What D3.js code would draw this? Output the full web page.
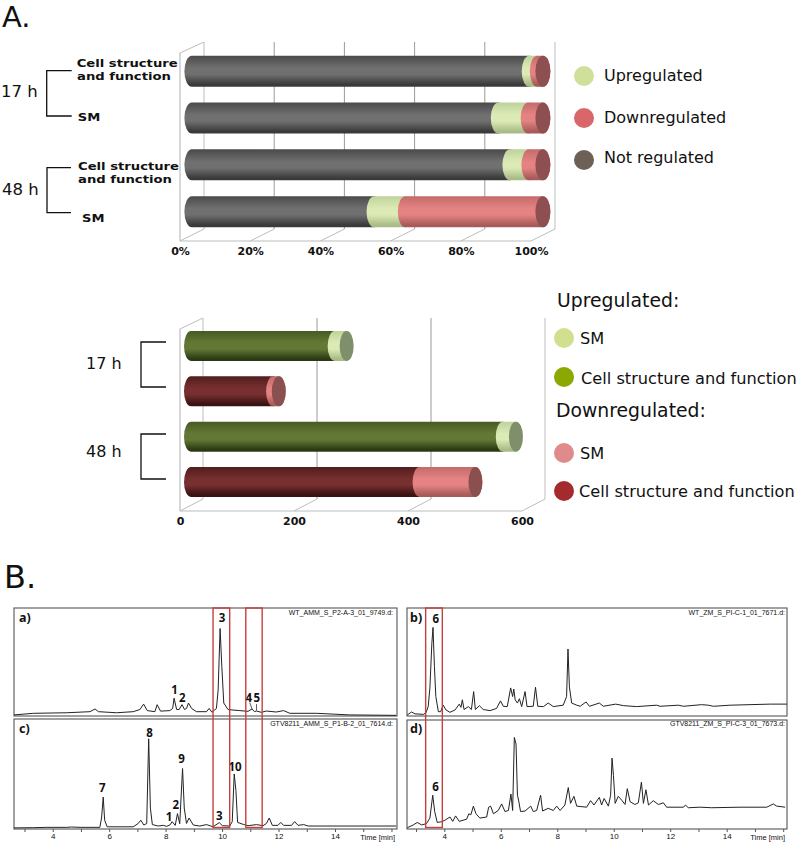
<!DOCTYPE html>
<html><head><meta charset="utf-8">
<script src="https://cdn.jsdelivr.net/npm/d3@7"></script>
<style>
html,body{margin:0;padding:0;background:#fff}
svg{display:block}
text{fill:#111}
</style></head><body>
<svg id="c" width="798" height="844"></svg>
<script>
// ---------- Part A, top chart (percent) ----------
const pctCategories = ["17h CSF","17h SM","48h CSF","48h SM"];
const pctNotRegulated = [96.1,87.3,90.6,51.9];
const pctUpregulated = [2.3,8.5,5.4,8.9];
const pctDownregulated = [1.6,4.2,4,39.2];
const pctTicks = [0,20,40,60,80,100];

// ---------- Part A, bottom chart (gene counts) ----------
const countCategories = ["17h Up","17h Down","48h Up","48h Down"];
const countCellStructure = [252,144,547,401];
const countSM = [21,10,23,98];
const countTicks = [0,200,400,600];

// ---------- Part B, chromatograms: [time (min), relative response %] ----------
const traceA = [[2.63,1],[3.32,2.5],[4.5,3],[5.32,4],[5.5,6.5],[5.62,4],[6.26,3],[6.85,4],[7.09,6],[7.22,11],[7.35,5],[7.62,4],[7.7,10.5],[7.82,4.5],[8.15,5],[8.25,7],[8.3,16.5],[8.39,6],[8.48,6],[8.58,10.5],[8.67,6],[8.74,7],[8.81,12],[8.92,7],[9.09,4],[9.45,4],[9.54,7],[9.64,3.5],[9.8,7],[9.86,24],[9.93,81],[9.99,46],[10.06,12],[10.21,6],[10.39,5.5],[10.63,5],[10.92,4.3],[11.06,6.5],[11.15,4],[11.22,4.6],[11.39,3.4],[11.57,4.6],[11.92,3.7],[12.18,5],[12.4,2.5],[13.34,2.5],[14.52,1],[16.17,0.6]];
const traceC = [[2.63,1],[3.32,1.2],[3.79,1.5],[4.5,1.5],[4.67,1.8],[4.97,1.5],[5.67,1.5],[5.73,10],[5.79,29],[5.84,8],[5.93,2],[6.85,2],[7.03,5],[7.12,8],[7.23,3.6],[7.33,5],[7.4,82],[7.46,19],[7.53,4],[7.74,2.7],[7.92,3.3],[8.03,2.4],[8.15,3.6],[8.23,6.7],[8.34,3.3],[8.42,14],[8.5,4.8],[8.6,55],[8.66,19],[8.74,5],[8.83,10],[8.98,3.6],[9.21,2.7],[9.45,4],[9.68,2],[9.9,5.8],[10.01,3],[10.27,2.7],[10.36,6.7],[10.43,50],[10.49,35],[10.55,6],[10.75,4.2],[10.92,3],[11.22,4],[11.45,3],[11.57,5],[11.67,10],[11.78,3.3],[11.98,3.3],[12.08,6],[12.18,3.3],[12.46,3.3],[12.57,6.7],[12.69,3.3],[12.89,4],[13.05,2.7],[16.17,2.7]];
const traceB = [[2.69,1],[2.84,3.7],[2.96,2],[3.26,1.5],[3.35,3],[3.43,8.7],[3.49,26],[3.56,67.5],[3.6,82],[3.65,46],[3.7,18],[3.79,4],[3.87,4],[3.96,10],[4.06,5.6],[4.2,3.4],[4.38,5.6],[4.53,11],[4.59,8],[4.64,15],[4.7,6],[4.85,8.7],[4.96,6],[5.04,22.6],[5.1,6],[5.24,9.6],[5.38,6],[5.62,5],[5.85,7],[5.99,14],[6.09,9],[6.23,8.7],[6.35,26],[6.42,18],[6.46,25],[6.51,15],[6.59,12],[6.66,16],[6.74,8.7],[6.86,22.6],[6.93,8.7],[7.15,9],[7.23,26.6],[7.31,9],[7.51,8.7],[7.68,12],[7.86,8.7],[8.21,10],[8.33,18],[8.38,62],[8.43,27],[8.51,12],[8.69,10],[8.81,9],[9.02,13],[9.14,9],[9.49,12],[9.63,9],[10.07,11],[10.34,9.6],[10.81,8.7],[11.52,10],[11.64,9],[12.29,10],[12.47,9],[13.11,10.5],[13.35,10],[13.53,9],[14.12,10],[15.54,11],[16.13,11]];
const traceD = [[2.69,1.2],[2.9,3.7],[3.04,6],[3.2,3.7],[3.37,5],[3.49,10],[3.59,31],[3.66,16],[3.75,6],[3.91,6.7],[4.02,8],[4.2,11],[4.3,7],[4.4,12],[4.53,7],[4.79,9],[4.87,14],[4.94,13],[5.03,21],[5.12,14],[5.26,10],[5.5,11],[5.57,20],[5.64,21],[5.74,14],[5.91,17],[6.03,23],[6.15,16],[6.27,17],[6.36,32],[6.42,17],[6.48,84],[6.54,78],[6.59,31],[6.63,26.5],[6.7,16],[6.86,16.5],[7.06,21],[7.15,16],[7.27,17],[7.41,31],[7.48,16.5],[7.68,19],[7.86,17],[7.98,21],[8.1,17],[8.27,22],[8.39,38],[8.47,23.5],[8.59,30],[8.69,21],[9.04,20],[9.18,26],[9.3,22],[9.49,29],[9.57,22],[9.66,28],[9.81,21],[9.89,31],[9.94,65],[9.99,49],[10.05,23.5],[10.16,30],[10.28,26.5],[10.4,22.5],[10.48,37],[10.58,25],[10.75,22.5],[10.87,24],[10.98,43],[11.05,23.5],[11.14,36],[11.23,22],[11.4,26],[11.58,22.5],[11.76,24],[11.87,20],[12.47,20],[12.54,22],[12.64,19.5],[13.06,20],[13.47,19.5],[14.47,20],[15.42,20],[15.65,23],[15.77,21],[16.07,20]];
const peaksA = [["3",10.0,86.7],["1",8.32,20.4],["2",8.59,13.3],["4",10.95,13.3],["5",11.23,13.3]];
const peaksB = [["6",3.7,86]];
const peaksC = [["7",5.76,34],["8",7.43,84],["9",8.56,60],["1",8.12,7.3],["2",8.36,18],["3",9.9,8.2],["10",10.46,53]];
const peaksD = [["6",3.69,35]];
const peakLeadersA = [[10.98,12.4,11.06,6.5],[11.22,11,11.22,5]];
const timeTicks = [3,4,5,6,7,8,9,10,11,12,13,14,15,16];
const highlightLeft = [[9.68,10.27],[10.84,11.42]];
const highlightRight = [[3.34,3.93]];

const svg = d3.select("#c");
const defs = svg.append("defs");
const FONT = "'DejaVu Sans',sans-serif";
const FONT2 = "'Noto Sans',sans-serif";
const ARIAL = "'Liberation Sans',sans-serif";

function grad(id,top,mid,bot){
  const g = defs.append("linearGradient").attr("id",id).attr("x1",0).attr("y1",0).attr("x2",0).attr("y2",1);
  [[0,top],[.4,mid],[.6,mid],[.93,bot],[1,bot]].forEach(s=>g.append("stop").attr("offset",s[0]).attr("stop-color",s[1]));
}
grad("gGrey","#4a4a4a","#707070","#3a3a3a");
grad("gLG","#bfd29a","#dcebb6","#a9bb86");
grad("gRed","#c46a6a","#e58383","#a85a5a");
grad("gDG","#475a24","#647835","#2b3a13");
grad("gDR","#521d1d","#772f2f","#3a1212");

function chart3d(o){
  const g = svg.append("g");
  const RX = o.rx;
  const xFront = d3.scaleLinear().domain(o.domain).range(o.xr);
  const xBar = d3.scaleLinear().domain(o.domain).range([o.xr[0]+o.barShift,o.xr[1]+o.barShift]);
  const xBack = d3.scaleLinear().domain(o.domain).range([o.xr[0]+o.depth,o.xr[1]+o.depth]);
  const y = d3.scalePoint().domain(o.cats).range(o.yr);
  const wall="#bdbdbd", grid="#9a9a9a";
  g.selectAll(".gl").data(o.ticks).join("line").attr("x1",d=>xBack(d)).attr("x2",d=>xBack(d))
    .attr("y1",o.backTop).attr("y2",o.backBot).attr("stroke",(d,i)=>i==0||i==o.ticks.length-1?wall:grid).attr("stroke-width",1);
  g.selectAll(".sl").data(o.ticks).join("line").attr("x1",d=>xFront(d)).attr("x2",d=>xBack(d))
    .attr("y1",o.frontBot).attr("y2",o.backBot).attr("stroke",wall);
  g.append("line").attr("x1",o.xr[0]).attr("x2",o.xr[0]).attr("y1",o.frontTop).attr("y2",o.frontBot).attr("stroke",wall).attr("stroke-width",1.2);
  g.append("line").attr("x1",o.xr[0]).attr("x2",xBack(o.domain[0])).attr("y1",o.frontTop).attr("y2",o.backTop).attr("stroke",wall);
  g.append("line").attr("x1",o.xr[0]).attr("x2",o.xr[1]).attr("y1",o.frontBot).attr("y2",o.frontBot).attr("stroke",wall).attr("stroke-width",1.2);
  o.cats.forEach((c,i)=>{
    let acc=0; let lastCap="#888";
    o.series.forEach(s=>{
      const v=s.values[i]; const x0=xBar(acc), x1=xBar(acc+v); acc+=v;
      const grp=s.fillFor?s.fillFor(i):s.fill;
      g.append("rect").attr("x",x0-RX).attr("y",y(c)-o.h/2).attr("width",x1-x0+2*RX).attr("height",o.h)
        .attr("rx",RX).attr("ry",o.h/2).attr("fill",`url(#${grp})`);
      lastCap=s.capFor?s.capFor(i):s.cap;
    });
    g.append("ellipse").attr("cx",xBar(acc)).attr("cy",y(c)).attr("rx",RX).attr("ry",o.h/2).attr("fill",lastCap);
  });
  const ax = g.append("g").attr("transform",`translate(0,${o.frontBot})`)
    .call(d3.axisBottom(xFront).tickValues(o.ticks).tickSize(0).tickPadding(o.pad).tickFormat(o.fmt));
  ax.select(".domain").remove();
  ax.selectAll("text").attr("font-family",FONT).attr("font-weight","bold").attr("font-size",11).attr("fill","#111");
}
chart3d({domain:[0,100],xr:[180,531],barShift:11.9,depth:24,rx:7.5,cats:pctCategories,yr:[71.2,211.7],h:31,
  ticks:pctTicks,fmt:d=>d+"%",frontTop:53,frontBot:241,backTop:42,backBot:229,pad:6,
  series:[{values:pctNotRegulated,fill:"gGrey",cap:"#555"},{values:pctUpregulated,fill:"gLG",cap:"#a9b98a"},{values:pctDownregulated,fill:"gRed",cap:"#8e4f50"}]});
chart3d({domain:[0,600],xr:[180,522],barShift:11,depth:23,rx:7,cats:countCategories,yr:[346,482],h:30,
  ticks:countTicks,fmt:d=>d,frontTop:329,frontBot:511,backTop:318,backBot:499,pad:6,
  series:[{values:countCellStructure,fillFor:i=>i%2?"gDR":"gDG"},
          {values:countSM,fillFor:i=>i%2?"gRed":"gLG",capFor:i=>i%2?"#8a5050":"#7f8f6c"}]});

function txt(x,y,s,size,fam,extra){
  const t=svg.append("text").attr("x",x).attr("y",y).attr("font-size",size).attr("font-family",fam).text(s);
  if(extra) Object.entries(extra).forEach(([k,v])=>t.attr(k,v));
  return t;
}
function bracket(x0,x1,y0,y1){
  svg.append("path").attr("d",d3.line()([[x1,y0],[x0,y0],[x0,y1],[x1,y1]])).attr("fill","none").attr("stroke","#111").attr("stroke-width",1.3);
}
txt(2,27,"A.",29,FONT);
txt(4,588,"B.",32,FONT);
[[76.7,66.7,"Cell structure",101],[77,80,"and function",94],[77.7,120.7,"SM",22.5],[78,170,"Cell structure",101],[78,182.7,"and function",94],[82,221.7,"SM",22.5]]
 .forEach(d=>txt(d[0],d[1],d[2],10,FONT,{"font-weight":"bold",textLength:d[3],lengthAdjust:"spacingAndGlyphs"}));
bracket(46.7,71.7,70.7,116); bracket(47,71,167.7,212.7);
txt(1,97.3,"17 h",16.5,FONT); txt(2,195,"48 h",16.5,FONT);
bracket(141,166,342,387); bracket(141,166,434,479);
txt(86,369,"17 h",16,FONT); txt(86,457,"48 h",16,FONT);

const legendTop=[["Upregulated","#cfe09b",76,81],["Downregulated","#d9666b",118,123],["Not regulated","#6d6155",160,163.3]];
legendTop.forEach(d=>{
  svg.append("circle").attr("cx",584).attr("cy",d[2]).attr("r",10).attr("fill",d[1]);
  txt(604,d[3],d[0],16,FONT);
});
const legendBottom=[["SM","#d0e08f",338,580,343.5],["Cell structure and function","#8aa800",377,581,384],["SM","#e08a8c",453,580,458.5],["Cell structure and function","#a52a2e",491,579,497]];
legendBottom.forEach(d=>{
  svg.append("circle").attr("cx",564).attr("cy",d[2]).attr("r",10).attr("fill",d[1]);
  txt(d[3],d[4],d[0],16.2,FONT);
});
txt(557,307,"Upregulated:",18.8,FONT); txt(556,417,"Downregulated:",18.8,FONT);

const panels=[
 {letter:"a)",trace:traceA,peaks:peaksA,name:"WT_AMM_S_P2-A-3_01_9749.d:",box:[14,397,608,716],xr:[52.7,335],lx:19,ly:622,nameY:615,nameX:393,axis:false,leaders:peakLeadersA},
 {letter:"b)",trace:traceB,peaks:peaksB,name:"WT_ZM_S_PI-C-1_01_7671.d:",box:[407,787,608,716],xr:[444.3,726.7],lx:410,ly:622,nameY:615,nameX:785,axis:false},
 {letter:"c)",trace:traceC,peaks:peaksC,name:"GTV8211_AMM_S_P1-B-2_01_7614.d:",box:[14,397,719,829],xr:[52.7,335],lx:19,ly:733,nameY:726,nameX:393,axis:true},
 {letter:"d)",trace:traceD,peaks:peaksD,name:"GTV8211_ZM_S_PI-C-3_01_7673.d:",box:[407,787,720,829],xr:[444.3,726.7],lx:410,ly:733,nameY:726,nameX:785,axis:true}
];
const scalesByColumn={};
panels.forEach(p=>{
  const x=d3.scaleLinear().domain([4,14]).range(p.xr);
  const y=d3.scaleLinear().domain([0,100]).range([p.box[3],p.box[2]]);
  scalesByColumn[p.box[0]]=x;
  const g=svg.append("g");
  g.append("rect").attr("x",p.box[0]).attr("y",p.box[2]).attr("width",p.box[1]-p.box[0]).attr("height",p.box[3]-p.box[2])
    .attr("fill","#fff").attr("stroke","#555").attr("stroke-width",1.1);
  g.append("path").attr("d",d3.line().x(d=>x(d[0])).y(d=>y(d[1]))(p.trace)).attr("fill","none").attr("stroke","#222").attr("stroke-width",1);
  (p.leaders||[]).forEach(l=>g.append("line").attr("x1",x(l[0])).attr("y1",y(l[1])).attr("x2",x(l[2])).attr("y2",y(l[3])).attr("stroke","#333").attr("stroke-width",.8));
  g.selectAll(".pk").data(p.peaks).join("text").attr("x",d=>x(d[1])).attr("y",d=>y(d[2])).attr("text-anchor","middle")
    .attr("font-family",FONT2).attr("font-weight","bold").attr("font-size",11.5).attr("fill","#222").text(d=>d[0]);
  g.append("text").attr("x",p.lx).attr("y",p.ly).attr("font-family",FONT2).attr("font-weight","bold").attr("font-size",12.5).attr("fill","#222").text(p.letter);
  g.append("text").attr("x",p.nameX).attr("y",p.nameY).attr("text-anchor","end").attr("font-family",ARIAL).attr("font-size",7).attr("fill","#555").text(p.name);
  if(p.axis){
    const ax=g.append("g").attr("transform",`translate(0,${p.box[3]})`)
      .call(d3.axisBottom(x).tickValues(timeTicks).tickSize(3).tickPadding(1).tickFormat(d=>(d%2==0&&d<=14)?d:""));
    ax.select(".domain").remove();
    ax.selectAll("line").attr("stroke","#555");
    ax.selectAll("text").attr("font-family",ARIAL).attr("font-size",8).attr("fill","#555");
    g.append("text").attr("x",p.box[1]-2).attr("y",p.box[3]+11).attr("text-anchor","end").attr("font-family",ARIAL).attr("font-size",7.5).attr("fill","#555").text("Time [min]");
  }
});
const drawHighlights=(list,xs)=>svg.selectAll(null).data(list).join("rect")
  .attr("x",d=>xs(d[0])).attr("width",d=>xs(d[1])-xs(d[0])).attr("y",608).attr("height",219.5)
  .attr("fill","none").attr("stroke","#c5403c").attr("stroke-width",1.4);
drawHighlights(highlightLeft,scalesByColumn[14]);
drawHighlights(highlightRight,scalesByColumn[407]);
</script>
</body></html>
